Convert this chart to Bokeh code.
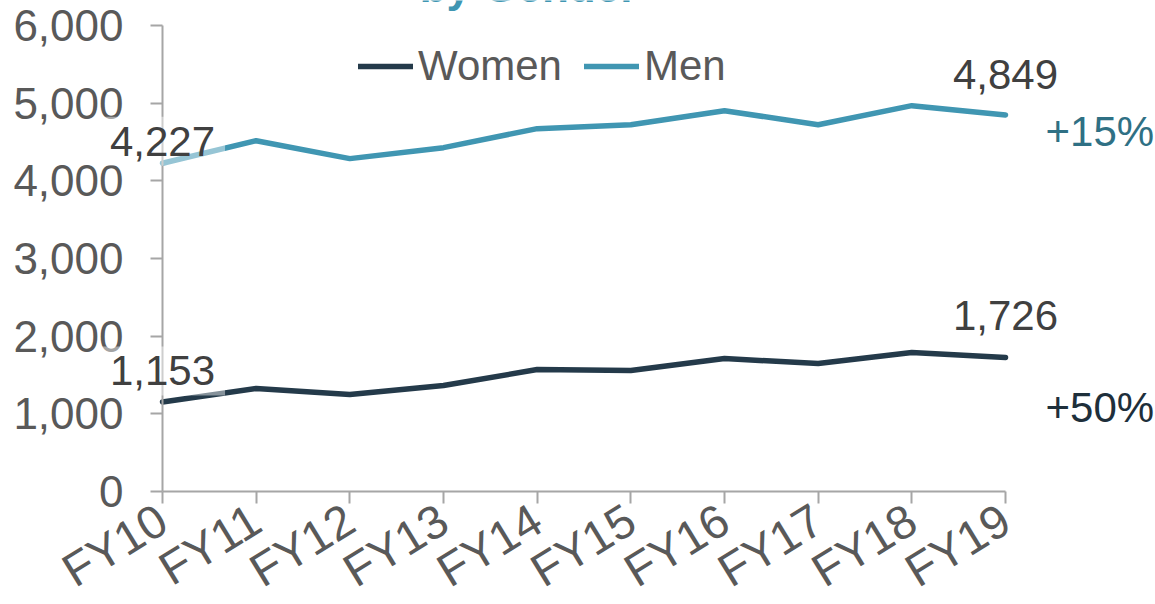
from bokeh.plotting import figure
from bokeh.models import Range1d, Label, Legend, LegendItem, NumeralTickFormatter, FixedTicker
from bokeh.embed import file_html
from bokeh.resources import INLINE

# ---- data ----
years = ["FY10", "FY11", "FY12", "FY13", "FY14", "FY15", "FY16", "FY17", "FY18", "FY19"]
men = [4227, 4517, 4286, 4427, 4672, 4723, 4903, 4723, 4968, 4849]
women = [1153, 1326, 1248, 1364, 1570, 1557, 1712, 1647, 1789, 1726]
y_ticks = [0, 1000, 2000, 3000, 4000, 5000, 6000]
title_text = "by Gender"
men_change = "+15%"
women_change = "+50%"

MEN_C = "#4096B2"
WOMEN_C = "#243A4A"
GRAY = "#595959"
AXIS_C = "#A6A6A6"
FONT = "Liberation Sans"

W, H = 1155, 604
# plot area (pixels) where the axes sit: left, right, top, bottom
AX_L, AX_R, AX_T, AX_B = 162, 1005, 25, 491
xs = list(range(len(years)))
n = len(years) - 1
ymax = y_ticks[-1]
ppx = (AX_R - AX_L) / n
ppy = (AX_B - AX_T) / ymax

p = figure(width=W, height=H, output_backend="svg", toolbar_location=None,
           x_range=Range1d(-AX_L / ppx, n + (W - AX_R) / ppx),
           y_range=Range1d(-(H - AX_B) / ppy, ymax + AX_T / ppy),
           min_border=0)
p.outline_line_color = None
p.xgrid.visible = False
p.ygrid.visible = False

p.yaxis.ticker = FixedTicker(ticks=y_ticks)
p.yaxis.formatter = NumeralTickFormatter(format="0,0")
p.yaxis.fixed_location = 0
p.yaxis.bounds = (0, ymax)
p.xaxis.ticker = FixedTicker(ticks=xs)
p.xaxis.major_label_overrides = {i: y for i, y in enumerate(years)}
p.xaxis.major_label_orientation = 0.55
p.xaxis.fixed_location = 0
p.xaxis.bounds = (0, n)
for ax in (p.xaxis, p.yaxis):
    ax.axis_line_color = AXIS_C
    ax.axis_line_width = 2
    ax.major_tick_line_color = AXIS_C
    ax.major_tick_line_width = 2
    ax.major_tick_out = 12
    ax.major_tick_in = 0
    ax.minor_tick_line_color = None
    ax.major_label_text_color = GRAY
    ax.major_label_text_font = FONT
p.yaxis.major_label_text_font_size = "44px"
p.xaxis.major_label_text_font_size = "47px"
p.yaxis.major_label_standoff = 27
p.xaxis.major_label_standoff = 12

r_w = p.line(xs, women, line_color=WOMEN_C, line_width=5.5, line_cap="round")
r_m = p.line(xs, men, line_color=MEN_C, line_width=5.5, line_cap="round")

legend = Legend(items=[LegendItem(label="Women", renderers=[r_w]),
                       LegendItem(label="Men", renderers=[r_m])],
                orientation="horizontal", location=(358, 514),
                border_line_alpha=0, background_fill_alpha=0,
                glyph_width=55, label_standoff=5, spacing=22, padding=0, margin=0,
                label_text_font=FONT, label_text_font_size="42px", label_text_color=GRAY)
p.add_layout(legend, "center")

def lab(x, y, text, yoff, xoff=0, color="#404040", align="center", bg=False):
    l = Label(x=x, y=y, text=text, x_offset=xoff, y_offset=yoff,
              text_align=align, text_baseline="alphabetic",
              text_font=FONT, text_font_size="42px", text_color=color)
    if bg:
        l.background_fill_color = "white"
        l.background_fill_alpha = 0.45
        l.padding = 10
    p.add_layout(l)

lab(0, men[0], f"{men[0]:,}", 22, bg=True)
lab(0, women[0], f"{women[0]:,}", 31, bg=True)
lab(n, men[-1], f"{men[-1]:,}", 40)
lab(n, women[-1], f"{women[-1]:,}", 42)
lab(n, men[-1], men_change, -17, xoff=40, color="#2F7084", align="left")
lab(n, women[-1], women_change, -50, xoff=40, color="#1E2F3B", align="left")

t = Label(x=528, y=H + 14, x_units="screen", y_units="screen", text=title_text,
          text_align="center", text_baseline="alphabetic", text_font=FONT,
          text_font_size="44px", text_font_style="bold", text_color=MEN_C)
p.add_layout(t)

open("out.html", "w").write(file_html(p, INLINE))
